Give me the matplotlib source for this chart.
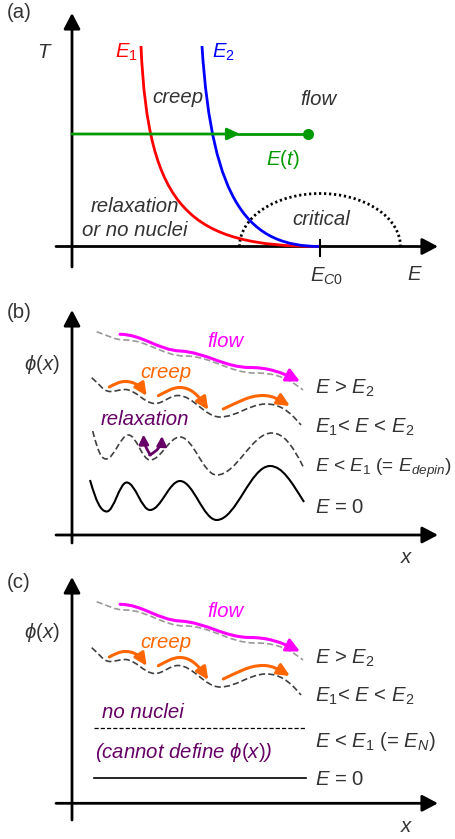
import matplotlib
matplotlib.use('Agg')
import matplotlib.pyplot as plt
from matplotlib.path import Path
from matplotlib.patches import FancyArrowPatch, PathPatch, Arc

plt.rcParams['font.family'] = ['Liberation Sans', 'DejaVu Sans']
plt.rcParams['mathtext.fontset'] = 'custom'
plt.rcParams['mathtext.rm'] = 'Liberation Sans'
plt.rcParams['mathtext.it'] = 'Liberation Sans:italic'
plt.rcParams['mathtext.fallback'] = 'stixsans'
plt.rcParams['lines.scale_dashes'] = False

# everything is in picture pixels, y pointing down

# (a) boundary curves E1, E2 as cubic bezier control points
E1_X = [141, 148, 190, 320]
E1_Y = [46, 210, 246.5, 246.5]
E2_X = [202, 212, 250, 320]
E2_Y = [46, 205, 246.5, 246.5]

# (b)/(c) curves: knots with slope dy/dx, panel (b) coordinates
FLOW_X = [120, 180, 250, 300]
FLOW_Y = [334.3, 351, 367.5, 381.5]
FLOW_S = [0, 0.05, 0, 0.5]

FLOWLINE_X = [96.7, 125, 185, 255, 303]
FLOWLINE_Y = [331.7, 340, 356, 373, 390]
FLOWLINE_S = [0.35, 0, 0, 0, 0.8]

CREEPLINE_X = [91.7, 110, 125, 155, 178, 220, 266, 301]
CREEPLINE_Y = [377.7, 391.5, 389.5, 403.5, 395.5, 417, 404, 425]
CREEPLINE_S = [0.8, 0, 0, 0, 0, 0, 0, 1.2]

CREEP_ARROWS = [
    ([109.3, 125, 146.7], [387, 381.5, 396], [-0.5, 0, 1.5]),
    ([158.3, 180, 208.3], [395.7, 387.5, 410], [-0.5, 0, 1.5]),
    ([223.3, 263, 290], [409, 395.5, 406], [-0.45, 0, 0.6]),
]

RELAX_X = [92.7, 106, 128.5, 150, 180, 216.7, 271.7, 303.3]
RELAX_Y = [431, 459, 435, 460, 437, 475, 433, 467]
RELAX_S = [4, 0, 0, 0, 0, 0, 0, 2]

ZERO_X = [90, 106.7, 126.7, 150, 180, 216.7, 270, 304]
ZERO_Y = [480, 511.5, 482.5, 510, 481, 520, 466, 502]
ZERO_S = [3.5, 0, 0, 0, 0, 0, 0, 1.6]

B_LABELS = [r'$E$ > $E_2$', r'$E_1$< $E$ < $E_2$',
            r'$E$ < $E_1$ (= $E_{depin}$)', r'$E$ = 0']
C_LABELS = [r'$E$ > $E_2$', r'$E_1$< $E$ < $E_2$',
            r'$E$ < $E_1$ (= $E_N$)', r'$E$ = 0']

TXT = '#333333'
PURPLE = '#660066'
ORANGE = '#ff6600'
PINK = '#ff00ff'
FS = 14.7


def wave(xs, ys, ss, dy=0, k=0.364):
    verts = [(xs[0], ys[0] + dy)]
    codes = [Path.MOVETO]
    for i in range(len(xs) - 1):
        dx = xs[i + 1] - xs[i]
        verts += [(xs[i] + k * dx, ys[i] + dy + k * dx * ss[i]),
                  (xs[i + 1] - k * dx, ys[i + 1] + dy - k * dx * ss[i + 1]),
                  (xs[i + 1], ys[i + 1] + dy)]
        codes += [Path.CURVE4] * 3
    return Path(verts, codes)


def axis_arrow(ax, start, tip):
    ax.add_patch(FancyArrowPatch(start, tip, arrowstyle='-|>,head_length=0.95,head_width=0.5',
                                 mutation_scale=10, lw=2, color='black', shrinkA=0, shrinkB=0))


fig = plt.figure(figsize=(4.55, 8.39), dpi=100)
ax = fig.add_axes([0, 0, 1, 1])
ax.set_xlim(0, 455)
ax.set_ylim(839, 0)
ax.axis('off')

# ---------- (a) ----------
ax.text(7, 12, '(a)', fontsize=FS, color=TXT, va='center')
axis_arrow(ax, (72, 267), (72, 13))
axis_arrow(ax, (56, 246.5), (438, 246.5))
ax.plot([320, 320], [240, 256], color='black', lw=1.5)

ax.add_patch(Arc((320, 246.5), 161, 106, theta1=180, theta2=360, color='black',
                 lw=2, linestyle=(0, (1.6, 2.0))))

ax.add_patch(PathPatch(Path(list(zip(E1_X, E1_Y)), [Path.MOVETO] + [Path.CURVE4] * 3),
                       fill=False, ec='#ff0000', lw=2))
ax.add_patch(PathPatch(Path(list(zip(E2_X, E2_Y)), [Path.MOVETO] + [Path.CURVE4] * 3),
                       fill=False, ec='#0000ff', lw=2))

ax.add_patch(FancyArrowPatch((72, 134), (240, 134), arrowstyle='-|>,head_length=0.75,head_width=0.35',
                             mutation_scale=10, lw=2, color='#009900', shrinkA=0, shrinkB=0))
ax.plot([238, 308], [134, 134], color='#009900', lw=2)
ax.plot([308], [134], 'o', color='#009900', ms=7)

ax.text(45, 52, r'$T$', fontsize=FS, color=TXT, ha='center', va='center')
ax.text(115, 58, r'$E_1$', fontsize=FS, color='#ff0000', va='baseline')
ax.text(212, 58, r'$E_2$', fontsize=FS, color='#0000ff', va='baseline')
ax.text(178, 103, 'creep', fontsize=FS, color=TXT, style='italic', ha='center', va='baseline')
ax.text(318.5, 105, 'flow', fontsize=FS, color=TXT, style='italic', ha='center', va='baseline')
ax.text(283, 165, r'$E(t)$', fontsize=FS, color='#009900', ha='center', va='baseline')
ax.text(321, 225, 'critical', fontsize=FS, color=TXT, style='italic', ha='center', va='baseline')
ax.text(135, 212, 'relaxation', fontsize=FS, color=TXT, style='italic', ha='center', va='baseline')
ax.text(135, 236, 'or no nuclei', fontsize=FS, color=TXT, style='italic', ha='center', va='baseline')
ax.text(310, 281.7, r'$E_{C0}$', fontsize=FS, color=TXT, va='baseline')
ax.text(407, 280, r'$E$', fontsize=FS, color=TXT, va='baseline')


# ---------- (b) and (c) shared parts ----------
def upper_curves(dy):
    ax.add_patch(PathPatch(wave(FLOWLINE_X, FLOWLINE_Y, FLOWLINE_S, dy), fill=False,
                           ec='#999999', lw=1.2, linestyle=(0, (4.5, 2.2))))
    ax.add_patch(FancyArrowPatch(path=wave(FLOW_X, FLOW_Y, FLOW_S, dy),
                                 arrowstyle='-|>,head_length=0.8,head_width=0.4',
                                 mutation_scale=10, lw=2.2, color=PINK))
    ax.add_patch(PathPatch(wave(CREEPLINE_X, CREEPLINE_Y, CREEPLINE_S, dy), fill=False,
                           ec='#404040', lw=1.2, linestyle=(0, (4.5, 2.2))))
    for xs, ys, ss in CREEP_ARROWS:
        ax.add_patch(FancyArrowPatch(path=wave(xs, ys, ss, dy),
                                     arrowstyle='-|>,head_length=0.75,head_width=0.35',
                                     mutation_scale=10, lw=2.2, color=ORANGE))
    ax.text(225, 347 + dy, 'flow', fontsize=FS, color=PINK, style='italic', ha='center', va='baseline')
    ax.text(166, 377.5 + dy, 'creep', fontsize=FS, color=ORANGE, style='italic', ha='center', va='baseline')


# ---------- (b) ----------
ax.text(7, 312, '(b)', fontsize=FS, color=TXT, va='center')
axis_arrow(ax, (72, 543), (72, 310))
axis_arrow(ax, (56, 535), (438, 535))
ax.text(60, 364, r'$\phi(x)$', fontsize=FS, color=TXT, ha='right', va='center')
ax.text(400, 563, r'$x$', fontsize=FS, color=TXT, va='baseline')

upper_curves(0)
ax.add_patch(PathPatch(wave(RELAX_X, RELAX_Y, RELAX_S), fill=False,
                       ec='#404040', lw=1.2, linestyle=(0, (4.5, 2.2))))
ax.add_patch(PathPatch(wave(ZERO_X, ZERO_Y, ZERO_S), fill=False, ec='black', lw=1.5))
ax.add_patch(FancyArrowPatch((150.5, 455), (143.5, 434.5), connectionstyle='arc3,rad=-0.15',
                             arrowstyle='-|>,head_length=0.55,head_width=0.28',
                             mutation_scale=10, lw=2, color=PURPLE, shrinkA=0, shrinkB=0))
ax.add_patch(FancyArrowPatch((149.5, 455), (162, 436), connectionstyle='arc3,rad=0.3',
                             arrowstyle='-|>,head_length=0.55,head_width=0.28',
                             mutation_scale=10, lw=2, color=PURPLE, shrinkA=0, shrinkB=0))
ax.text(145, 425, 'relaxation', fontsize=FS, color=PURPLE, style='italic', ha='center', va='baseline')

for lab, yb in zip(B_LABELS, [394, 433, 472, 513]):
    # the long depinning label has to fit inside the right edge
    ax.text(315, yb, lab, fontsize=FS if 'depin' not in lab else 13.8, color=TXT, va='baseline')

# ---------- (c) ----------
ax.text(7, 583, '(c)', fontsize=FS, color=TXT, va='center')
axis_arrow(ax, (72, 820), (72, 577))
axis_arrow(ax, (56, 803.3), (438, 803.3))
ax.text(60, 633, r'$\phi(x)$', fontsize=FS, color=TXT, ha='right', va='center')
ax.text(400, 831.7, r'$x$', fontsize=FS, color=TXT, va='baseline')

upper_curves(270)
ax.plot([94, 306], [727.7, 727.7], color='black', lw=0.9, linestyle=(0, (3, 1.5)))
ax.plot([94, 306], [778.3, 778.3], color='black', lw=1.2)
ax.text(142.5, 718.3, 'no nuclei', fontsize=FS, color=PURPLE, style='italic', ha='center', va='baseline')
ax.text(95, 758.3, r'(cannot define $\phi(x)$)', fontsize=FS, color=PURPLE, style='italic', va='baseline')

for lab, yb in zip(C_LABELS, [664, 702, 747, 785]):
    ax.text(315, yb, lab, fontsize=FS, color=TXT, va='baseline')

fig.savefig('out.png', dpi=100)
